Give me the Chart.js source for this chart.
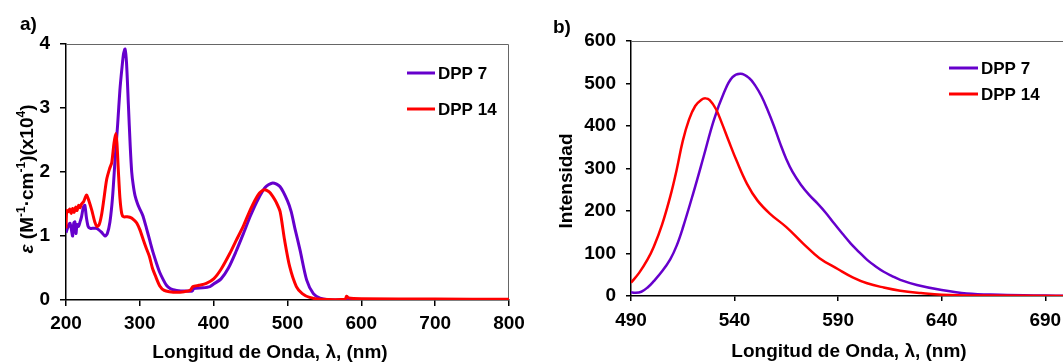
<!DOCTYPE html>
<html>
<head>
<meta charset="utf-8">
<title>DPP 7 / DPP 14</title>
<script src="https://cdn.jsdelivr.net/npm/chart.js@4.4.1/dist/chart.umd.min.js"></script>
<style>
  html, body { margin: 0; padding: 0; background: #fff; overflow: hidden; }
  body { width: 1063px; height: 362px; position: relative; }
  #absChart { position: absolute; left: 0; top: 0; }
  #emChart { position: absolute; left: 540px; top: 0; }
</style>
</head>
<body>
<canvas id="absChart" width="540" height="362"></canvas>
<canvas id="emChart" width="530" height="362"></canvas>
<script>
// a) absorption, epsilon (x10^4)
const absWl7 = [200, 202, 204, 205.5, 207, 209, 210.5, 212, 213.5, 215, 217, 219, 221, 223.5, 225.5, 227.5, 230, 233, 237, 241, 244, 248, 253, 256, 259.5, 263, 266.5, 270, 273, 276, 278, 280, 282, 284.5, 287, 289, 291, 293.5, 297, 300, 304, 309, 313, 318, 323, 327, 332, 336, 341, 345, 350, 360, 371, 373, 385, 395, 400, 410, 420, 430, 440, 450, 460, 470, 480, 490, 500, 505, 510, 517, 526, 535, 544, 555, 570, 600, 700, 800];
const absEps7 = [1.05, 1.12, 1.18, 1.2, 1.12, 1.0, 1.2, 1.22, 1.04, 1.18, 1.15, 1.22, 1.3, 1.45, 1.48, 1.3, 1.15, 1.12, 1.12, 1.12, 1.1, 1.06, 1.0, 1.04, 1.22, 1.6, 2.2, 2.75, 3.28, 3.65, 3.85, 3.92, 3.7, 3.05, 2.4, 2.0, 1.8, 1.63, 1.5, 1.42, 1.32, 1.12, 0.95, 0.74, 0.56, 0.43, 0.31, 0.23, 0.18, 0.16, 0.15, 0.14, 0.14, 0.18, 0.19, 0.21, 0.25, 0.33, 0.5, 0.75, 1.03, 1.32, 1.57, 1.76, 1.83, 1.77, 1.55, 1.38, 1.12, 0.78, 0.31, 0.1, 0.03, 0.005, 0, 0, 0, 0];
const absWl14 = [200, 201, 203, 205, 207, 209, 211, 213, 215, 217, 219, 221, 224, 226, 228, 231, 235, 239, 242, 245, 248, 251, 255, 259, 262, 265, 267.5, 269, 271, 273, 275.5, 278, 283, 289, 293, 296, 300, 305, 309, 313, 317, 321, 327, 333, 340, 350, 360, 368, 372, 380, 390, 400, 410, 422, 430, 440, 450, 460, 468, 475, 480, 485, 490, 496, 503, 512, 520, 530, 545, 578, 580, 583, 600, 700, 800];
const absEps14 = [1.12, 1.4, 1.38, 1.42, 1.35, 1.43, 1.37, 1.45, 1.4, 1.48, 1.44, 1.5, 1.54, 1.6, 1.64, 1.55, 1.4, 1.22, 1.15, 1.18, 1.32, 1.55, 1.88, 2.05, 2.15, 2.45, 2.6, 2.45, 2.0, 1.6, 1.35, 1.3, 1.3, 1.28, 1.24, 1.2, 1.1, 0.93, 0.8, 0.68, 0.5, 0.38, 0.22, 0.15, 0.13, 0.12, 0.13, 0.15, 0.21, 0.23, 0.26, 0.33, 0.48, 0.73, 0.92, 1.15, 1.42, 1.64, 1.72, 1.69, 1.62, 1.52, 1.38, 0.94, 0.52, 0.21, 0.1, 0.04, 0.01, 0.01, 0.06, 0.03, 0.02, 0.015, 0.01];
const absXTicks = [200, 300, 400, 500, 600, 700, 800];
const absYTicks = [0, 1, 2, 3, 4];

// b) emission intensity
const emWl7 = [490, 492, 495, 498, 501, 505, 509, 512, 515, 520, 525, 530, 535, 539, 543, 547, 550, 553, 556, 559, 562, 565, 568, 572, 576, 580, 584, 588, 592, 596, 600, 604, 608, 612, 616, 620, 628, 640, 652, 668, 690, 700];
const emInt7 = [9, 7.5, 10, 20, 35, 58, 87, 118, 160, 241, 327, 414, 480, 515, 523, 513, 495, 470, 437, 400, 359, 322, 292, 262, 238, 218, 196, 171, 147, 124, 104, 85, 70, 57, 47, 38, 26, 14, 6, 3, 1, 0.5];
const emWl14 = [490, 494, 498, 501, 505, 509, 512, 515, 518, 521, 524, 526, 528, 531, 534, 537, 541, 546, 551, 557, 565, 573, 581, 590, 597, 604, 612, 620, 630, 640, 660, 700];
const emInt14 = [31, 55, 86, 116, 168, 235, 296, 365, 415, 447, 462, 465, 461, 440, 405, 367, 318, 264, 225, 194, 162, 124, 89, 63, 44, 30, 20, 12.5, 7, 3, 1, 0];
const emXTicks = [490, 540, 590, 640, 690];
const emYTicks = [0, 100, 200, 300, 400, 500, 600];

const FONT = "'Liberation Sans', Arial, Helvetica, sans-serif";
const PURPLE = '#6600CC';
const RED = '#FF0000';

function toPoints(xs, ys) {
    return xs.map((x, i) => ({ x: x, y: ys[i] }));
}

// rich text, optionally rotated, centred on (cx, cy)
function drawRich(ctx, pieces, cx, cy, rotate) {
    const fontFor = p => (p.italic ? 'italic ' : '') + 'bold ' + (p.sup ? 12 : 19) + 'px ' + FONT;
    ctx.save();
    ctx.translate(cx, cy);
    if (rotate) ctx.rotate(-Math.PI / 2);
    let total = 0;
    pieces.forEach(p => { ctx.font = fontFor(p); total += ctx.measureText(p.text).width; });
    let x = -total / 2;
    ctx.fillStyle = '#000';
    ctx.textAlign = 'left';
    ctx.textBaseline = 'alphabetic';
    pieces.forEach(p => {
        ctx.font = fontFor(p);
        ctx.fillText(p.text, x, p.sup ? -1 : 7);
        x += ctx.measureText(p.text).width;
    });
    ctx.restore();
}

// frame, titles, panel letter and legend
const decor = {
    id: 'decor',
    beforeDatasetsDraw(chart, args, opts) {
        const { ctx, chartArea: a } = chart;
        ctx.save();
        ctx.strokeStyle = '#666';
        ctx.lineWidth = 1;
        ctx.beginPath();
        ctx.moveTo(a.left, a.top + 0.5);
        ctx.lineTo(a.right - 0.5, a.top + 0.5);
        ctx.lineTo(a.right - 0.5, a.bottom);
        ctx.stroke();
        ctx.restore();
    },
    afterDraw(chart, args, opts) {
        const ctx = chart.ctx;
        ctx.save();
        ctx.fillStyle = '#000';
        ctx.font = 'bold 19px ' + FONT;
        ctx.textAlign = 'left';
        ctx.textBaseline = 'alphabetic';
        ctx.fillText(opts.panel, opts.panelPos[0], opts.panelPos[1]);
        ctx.restore();

        drawRich(ctx, [{ text: opts.xTitle }], opts.xTitlePos[0], opts.xTitlePos[1], false);
        drawRich(ctx, opts.yTitle, opts.yTitlePos[0], opts.yTitlePos[1], true);

        // legend
        const lg = opts.legend;
        ctx.save();
        chart.data.datasets.forEach((ds, i) => {
            const y = lg.ys[i];
            ctx.strokeStyle = ds.borderColor;
            ctx.lineWidth = lg.lineWidth;
            ctx.beginPath();
            ctx.moveTo(lg.x1, y);
            ctx.lineTo(lg.x2, y);
            ctx.stroke();
            ctx.fillStyle = '#000';
            ctx.font = 'bold 17px ' + FONT;
            ctx.textBaseline = 'middle';
            ctx.fillText(ds.label, lg.x2 + 3, y + 1);
        });
        ctx.restore();
    }
};

function axisOpts(min, max, tickList, tickLen, pad, fitSize, isX) {
    return {
        type: 'linear',
        min: min,
        max: max,
        afterBuildTicks: s => { s.ticks = tickList.map(v => ({ value: v })); },
        afterFit: s => { if (isX) s.height = fitSize; else s.width = fitSize; },
        border: { display: true, color: '#000', width: 1.5 },
        grid: { drawOnChartArea: false, drawTicks: true, tickLength: tickLen, color: '#000', lineWidth: 1.5 },
        ticks: {
            color: '#000',
            padding: pad,
            maxRotation: 0,
            autoSkip: false,
            font: { family: FONT, size: 19, weight: 'bold' }
        }
    };
}

function makeChart(id, sets, lineWidth, tension, scales, padding, decorOpts) {
    const ctx = document.getElementById(id).getContext('2d');
    return new Chart(ctx, {
        type: 'line',
        data: {
            datasets: [{
                label: 'DPP 7',
                data: sets[0],
                borderColor: PURPLE,
                borderWidth: lineWidth,
                pointRadius: 0,
                tension: tension,
                order: 2
            }, {
                label: 'DPP 14',
                data: sets[1],
                borderColor: RED,
                borderWidth: lineWidth,
                pointRadius: 0,
                tension: tension,
                order: 1
            }]
        },
        options: {
            responsive: false,
            animation: false,
            devicePixelRatio: 1,
            layout: { padding: padding },
            scales: scales,
            plugins: {
                legend: { display: false },
                tooltip: { enabled: false },
                decor: decorOpts
            }
        },
        plugins: [decor]
    });
}

// a)
makeChart('absChart',
    [toPoints(absWl7, absEps7), toPoints(absWl14, absEps14)],
    3, 0.25,
    {
        x: axisOpts(200, 800, absXTicks, 6, 6, 62, true),
        y: axisOpts(0, 4, absYTicks, 6, 10, 66, false)
    },
    { left: 0, top: 44, right: 31, bottom: 0 },
    {
        panel: 'a)',
        panelPos: [20, 30],
        xTitle: 'Longitud de Onda, λ, (nm)',
        xTitlePos: [270, 351],
        yTitle: [
            { text: 'ε', italic: true },
            { text: ' (M' }, { text: '-1', sup: true },
            { text: '·cm' }, { text: '-1', sup: true },
            { text: ')(x10' }, { text: '4', sup: true },
            { text: ')' }
        ],
        yTitlePos: [25.5, 179],
        legend: { x1: 407, x2: 435, ys: [73, 109], lineWidth: 3 }
    });

// b)
makeChart('emChart',
    [toPoints(emWl7, emInt7), toPoints(emWl14, emInt14)],
    2.5, 0.4,
    {
        x: axisOpts(490, 700, emXTicks, 5, 8, 66, true),
        y: axisOpts(0, 600, emYTicks, 5, 10, 91, false)
    },
    { left: 0, top: 41, right: 4, bottom: 0 },
    {
        panel: 'b)',
        panelPos: [13, 33],
        xTitle: 'Longitud de Onda, λ, (nm)',
        xTitlePos: [309, 350],
        yTitle: [{ text: 'Intensidad' }],
        yTitlePos: [25, 181],
        legend: { x1: 409, x2: 438, ys: [68, 94], lineWidth: 3 }
    });
</script>
</body>
</html>
